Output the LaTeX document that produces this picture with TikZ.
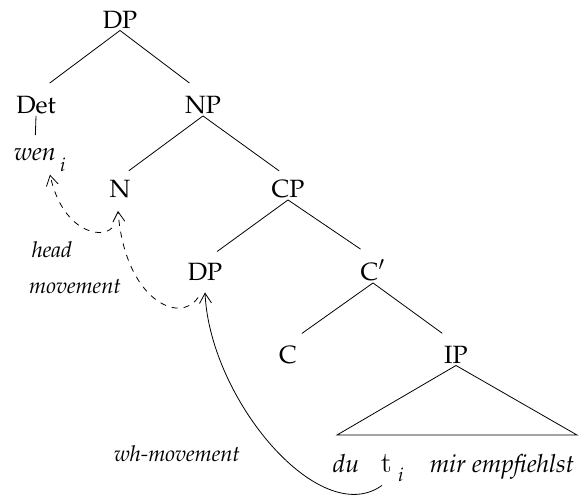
\documentclass[tikz,border=0pt]{standalone}
\usepackage[T1]{fontenc}
\usepackage{mathpazo}
\usetikzlibrary{arrows.meta}
\newcommand{\catfont}{\fontsize{12.5}{14}\selectfont}
\newcommand{\movefont}{\fontsize{11}{13}\selectfont\itshape}

\begin{document}
\begin{tikzpicture}[x=0.5pt,y=-0.5pt,
  cat/.style={anchor=base, inner sep=1pt, font=\catfont},
  idx/.style={anchor=base, inner sep=0pt, font=\catfont},
  branch/.style={shorten >=8.5pt},
  movelabel/.style={anchor=base, inner sep=0pt, font=\movefont},
  move/.style={-{Straight Barb[length=5pt,width=6pt]}}]
\useasboundingbox (0,0) rectangle (582,500);
% tree
\node[cat] (dp) at (120,28) {DP};
\node[cat] (det) at (36,113) {Det};
\node[cat] (np) at (203,113) {NP};
\node[cat] (wen) at (35,160) {\textit{wen}};
\node[idx] (wenidx) at (63,171) {$\scriptstyle i$};
\node[cat] (n) at (120,197) {N};
\node[cat] (cp) at (288,197) {CP};
\node[cat] (spec) at (205,280) {DP};
\node[cat] (cbar) at (373,280) {C$'$};
\node[cat] (c) at (288,363) {C};
\node[cat] (ip) at (456,363) {IP};
\node[cat] (du) at (346,472) {\textit{du}};
\node[cat] (t) at (387,472) {\textsf{\fontsize{13.5}{14}\selectfont t}};
\node[idx] (tidx) at (401,481) {$\scriptstyle i$};
\node[cat] (rest) at (502,472) {\textit{mir empfiehlst}};
\coordinate (tl) at (337,435);
\coordinate (tr) at (577,435);

\draw[branch] (dp.south) -- (det.north);
\draw[branch] (dp.south) -- (np.north);
\draw[shorten >=5pt] (det.south) -- (wen.north);
\draw[branch, shorten >=5.5pt] (np.south) -- (n.north);
\draw[branch, shorten >=5.5pt] (np.south) -- (cp.north);
\draw[branch, shorten >=7.5pt] (cp.south) -- (spec.north);
\draw[branch, shorten >=7.5pt] (cp.south) -- (cbar.north);
\draw[branch] (cbar.south) -- (c.north);
\draw[branch] (cbar.south) -- (ip.north);
\draw (ip.south) -- (tl) -- (tr) -- cycle;

% movement
\draw[move, dashed] ([xshift=-4pt,yshift=-14pt]n.south) .. controls (100,240) and (62,230) .. ([xshift=7.5pt,yshift=-6pt]wen.south);
\draw[move, dashed] ([xshift=-3.5pt,yshift=-7.5pt]spec.south) .. controls (180,325) and (125,300) .. ([xshift=-1pt,yshift=-5.5pt]n.south);
\draw[move] ([xshift=-2.5pt,yshift=-5.5pt]t.south) .. controls (320,530) and (210,400) .. ([yshift=-5pt]spec.south);
\node[movelabel] (headlbl) at (52,257) {head};
\node[movelabel] (movelbl) at (75,293) {movement};
\node[movelabel] (whlbl) at (177,461) {wh-movement};
\end{tikzpicture}
\end{document}
